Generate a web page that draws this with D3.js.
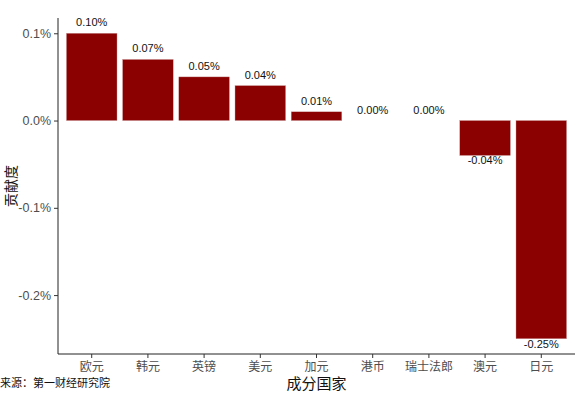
<!DOCTYPE html>
<html>
<head>
<meta charset="utf-8">
<script src="https://cdn.jsdelivr.net/npm/d3@7"></script>
<style>
  body { margin: 0; background: #fff; }
  svg { display: block; }
</style>
</head>
<body>
<div id="chart"></div>
<script>
// data
var categories = ["欧元", "韩元", "英镑", "美元", "加元", "港币", "瑞士法郎", "澳元", "日元"];
var values = [0.10, 0.07, 0.05, 0.04, 0.01, 0.00, 0.00, -0.04, -0.25];
var yTicks = [0.1, 0.0, -0.1, -0.2];

var width = 575, height = 395;
var margin = { top: 18, right: 0, bottom: 41, left: 58 };

var svg = d3.select("#chart").append("svg")
    .attr("width", width)
    .attr("height", height);

// ggplot-like expand: 0.6 of a step on x, 5% on y
var x = d3.scaleBand()
    .domain(categories)
    .range([margin.left, width - margin.right])
    .paddingInner(0.1)
    .paddingOuter(0.15);

var yMin = d3.min(values), yMax = d3.max(values);
var pad = (yMax - yMin) * 0.05;
var y = d3.scaleLinear()
    .domain([yMin - pad, yMax + pad])
    .range([height - margin.bottom, margin.top]);

// bars
svg.selectAll(".bar")
    .data(values)
    .enter().append("rect")
    .attr("class", "bar")
    .attr("x", function (d, i) { return x(categories[i]); })
    .attr("width", x.bandwidth())
    .attr("y", function (d) { return y(Math.max(0, d)); })
    .attr("height", function (d) { return Math.abs(y(d) - y(0)); })
    .attr("fill", "#8B0000")
    .attr("stroke", "#c99")
    .attr("stroke-width", 0.4);

// value labels
svg.selectAll(".lbl")
    .data(values)
    .enter().append("text")
    .attr("class", "lbl")
    .attr("x", function (d, i) { return x(categories[i]) + x.bandwidth() / 2; })
    .attr("y", function (d) { return d >= 0 ? y(d) - 7 : y(d) + 9; })
    .attr("text-anchor", "middle")
    .attr("font-family", "Liberation Sans, Arial, sans-serif")
    .attr("font-size", 11)
    .attr("fill", "#111")
    .text(function (d) { return d.toFixed(2) + "%"; });

// y axis
var yAxis = svg.append("g")
    .attr("transform", "translate(" + margin.left + ",0)")
    .call(d3.axisLeft(y).tickValues(yTicks).tickSize(4).tickPadding(3)
        .tickFormat(function (d) { return d.toFixed(1) + "%"; }));
yAxis.select(".domain").attr("stroke", "#222").attr("d", "M0," + y.range()[0] + "V" + y.range()[1]);
yAxis.selectAll(".tick line").attr("stroke", "#333");
yAxis.selectAll(".tick text")
    .attr("font-family", "Liberation Sans, Arial, sans-serif")
    .attr("font-size", 12.5)
    .attr("fill", "#4d4d4d");

// x axis
var xAxis = svg.append("g")
    .attr("transform", "translate(0," + (height - margin.bottom) + ")")
    .call(d3.axisBottom(x).tickSize(4).tickPadding(4));
xAxis.select(".domain").attr("stroke", "#222").attr("d", "M" + margin.left + ",0H" + width);
xAxis.selectAll(".tick line").attr("stroke", "#333");
xAxis.selectAll(".tick text")
    .attr("font-family", "Noto Sans CJK SC, sans-serif")
    .attr("font-size", 12)
    .attr("fill", "#4d4d4d");

// axis titles
svg.append("text")
    .attr("x", (margin.left + width) / 2)
    .attr("y", 389)
    .attr("text-anchor", "middle")
    .attr("font-family", "Noto Sans CJK SC, sans-serif")
    .attr("font-size", 15)
    .attr("fill", "#111")
    .text("成分国家");

svg.append("text")
    .attr("transform", "translate(16," + ((margin.top + height - margin.bottom) / 2) + ") rotate(-90)")
    .attr("text-anchor", "middle")
    .attr("font-family", "Noto Sans CJK SC, sans-serif")
    .attr("font-size", 14)
    .attr("fill", "#111")
    .text("贡献度");

// caption
svg.append("text")
    .attr("x", 0)
    .attr("y", 387)
    .attr("font-family", "Noto Sans CJK SC, sans-serif")
    .attr("font-size", 11)
    .attr("fill", "#111")
    .text("来源：第一财经研究院");
</script>
</body>
</html>
